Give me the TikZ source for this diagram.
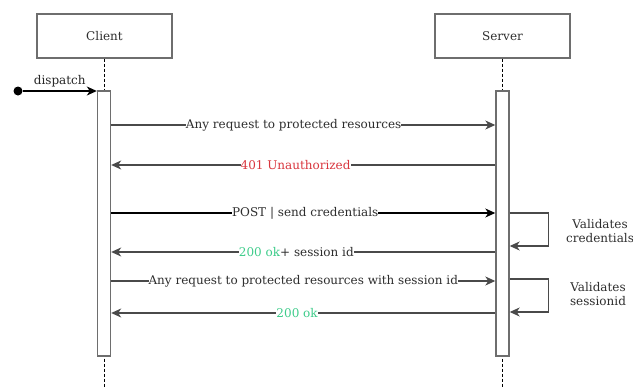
\documentclass[tikz,border=0pt]{standalone}
\usepackage{fontspec}
\setmainfont{DejaVu Serif}
\usetikzlibrary{arrows.meta}
\definecolor{boxgray}{HTML}{6E6E6E}
\definecolor{linegray}{HTML}{4A4A4A}
\definecolor{errred}{HTML}{D9363E}
\definecolor{okgreen}{HTML}{3DCC8A}
\tikzset{
  txt/.style={font=\fontsize{12}{14}\selectfont},
  actor/.style={draw=boxgray, line width=1.4pt, minimum width=135pt, minimum height=44pt, inner sep=0pt, txt, text=black!82},
  activ/.style={draw=boxgray, line width=1.4pt, fill=white, minimum width=13pt, inner sep=0pt},
  life/.style={draw=black, line width=0.9pt, dash pattern=on 3pt off 2pt},
  msg/.style={draw=linegray, line width=1.1pt, -{Stealth[length=10pt,width=9pt,inset=3pt]}},
  lbl/.style={fill=white, inner sep=0pt, txt, text=black!82},
  note/.style={align=center, inner sep=0pt, txt, text=black!82}
}
\begin{document}
\begin{tikzpicture}[x=1pt,y=-1pt]
\useasboundingbox (0,0) rectangle (633,388);
% actors
\node[actor] (client) at (104.5,36) {Client};
\node[actor] (server) at (502.5,36) {Server};
% lifeline ends
\coordinate (cend) at (104.5,388);
\coordinate (send) at (502.5,388);
\draw[life] (client.south) -- (cend);
\draw[life] (server.south) -- (send);
% activations
\node[activ, minimum height=265pt] (ca) at (104,223.5) {};
\node[activ, minimum height=265pt] (sa) at (502.5,223.5) {};
% dispatch
\node[circle, fill=black, inner sep=0pt, minimum size=9pt] (start) at (18,91) {};
\coordinate (cin) at (ca.west |- start);
\draw[msg, draw=black] (start) -- (cin) node[midway, above=0pt, txt, text=black!85] {dispatch};
% messages
\coordinate (c1) at (ca.east |- 0,125);  \coordinate (s1) at (sa.west |- 0,125);
\coordinate (c2) at (ca.east |- 0,165);  \coordinate (s2) at (sa.west |- 0,165);
\coordinate (c3) at (ca.east |- 0,213);  \coordinate (s3) at (sa.west |- 0,213);
\coordinate (c4) at (ca.east |- 0,252);  \coordinate (s4) at (sa.west |- 0,252);
\coordinate (c5) at (ca.east |- 0,281);  \coordinate (s5) at (sa.west |- 0,281);
\coordinate (c6) at (ca.east |- 0,313);  \coordinate (s6) at (sa.west |- 0,313);
\draw[msg] (c1) -- (s1) node[lbl, pos=0.475] {Any request to protected resources};
\draw[msg] (s2) -- (c2) node[lbl, pos=0.52, text=errred] {401 Unauthorized};
\draw[msg, draw=black] (c3) -- (s3) node[lbl, pos=0.505] {POST | send credentials};
\draw[msg] (s4) -- (c4) node[lbl, pos=0.518] {\textcolor{okgreen}{200 ok}+ session id};
\draw[msg] (c5) -- (s5) node[lbl, pos=0.5] {Any request to protected resources with session id};
\draw[msg] (s6) -- (c6) node[lbl, pos=0.516, text=okgreen] {200 ok};
% self loops
\coordinate (l1a) at (sa.east |- 0,213); \coordinate (l1b) at (sa.east |- 0,246);
\coordinate (l2a) at (sa.east |- 0,279); \coordinate (l2b) at (sa.east |- 0,312);
\draw[msg] (l1a) -- ++(39,0) |- (l1b);
\draw[msg] (l2a) -- ++(39,0) |- (l2b);
\node[note] (v1) at (600,231) {Validates\\credentials};
\node[note] (v2) at (598,294) {Validates\\sessionid};
\end{tikzpicture}
\end{document}
